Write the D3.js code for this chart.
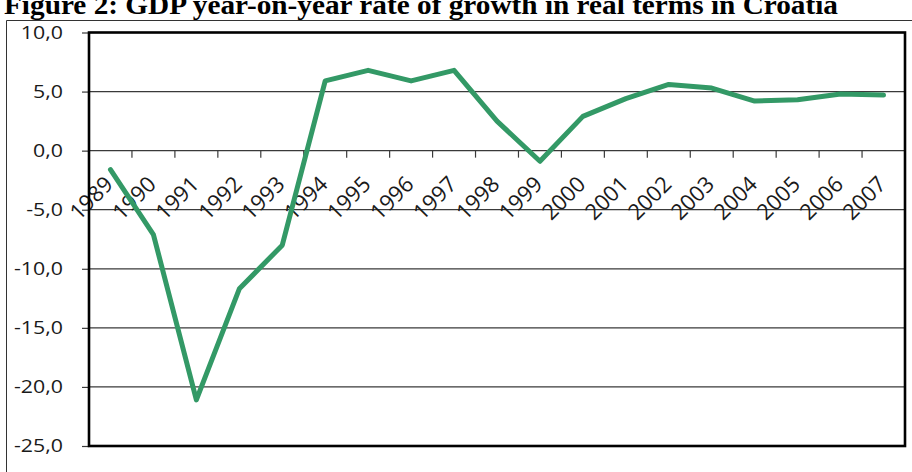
<!DOCTYPE html>
<html>
<head>
<meta charset="utf-8">
<script src="https://cdn.jsdelivr.net/npm/d3@7"></script>
<style>
  html, body { margin: 0; padding: 0; background: #fff; }
  svg { display: block; }
</style>
</head>
<body>
<svg id="chart" width="912" height="472"></svg>
<script>
// GDP year-on-year growth in real terms, Croatia
const years = ["1989","1990","1991","1992","1993","1994","1995","1996","1997","1998",
               "1999","2000","2001","2002","2003","2004","2005","2006","2007"];
const growth = [-1.6, -7.1, -21.1, -11.7, -8.0, 5.9, 6.8, 5.9, 6.8, 2.5,
                -0.9, 2.9, 4.4, 5.6, 5.3, 4.2, 4.3, 4.8, 4.7];
const yTicks = [10, 5, 0, -5, -10, -15, -20, -25];
const yTickLabels = ["10,0", "5,0", "0,0", "-5,0", "-10,0", "-15,0", "-20,0", "-25,0"];
const title = "Figure 2: GDP year-on-year rate of growth in real terms in Croatia";

const svg = d3.select("#chart");
const plot = { left: 89, right: 905, top: 32.5, bottom: 446 };

const x = d3.scaleBand().domain(years).range([plot.left, plot.right]).padding(0);
const y = d3.scaleLinear().domain([-25, 10]).range([plot.bottom, plot.top]);

// title and surrounding frame
svg.append("text")
  .attr("x", 4).attr("y", 14)
  .attr("font-family", "Liberation Serif, Times New Roman, serif")
  .attr("font-weight", "bold")
  .attr("font-size", 28)
  .attr("textLength", 834)
  .attr("lengthAdjust", "spacingAndGlyphs")
  .attr("fill", "#000")
  .text(title);

svg.append("path")
  .attr("d", "M6.5,480 V20.5 H920")
  .attr("fill", "none").attr("stroke", "#333").attr("stroke-width", 1);

// horizontal gridlines
svg.append("g")
  .selectAll("line")
  .data(yTicks.filter(d => d !== 10 && d !== -25))
  .join("line")
  .attr("x1", plot.left).attr("x2", plot.right)
  .attr("y1", d => y(d)).attr("y2", d => y(d))
  .attr("stroke", "#3a3a3a").attr("stroke-width", 1.2);

// y axis: ticks and labels
const yAxis = d3.axisLeft(y)
  .tickValues(yTicks)
  .tickSize(7)
  .tickPadding(0)
  .tickFormat((d, i) => yTickLabels[i]);
const gy = svg.append("g").attr("transform", `translate(${plot.left},0)`).call(yAxis);
gy.select(".domain").remove();
gy.selectAll(".tick line").attr("stroke", "#3a3a3a").attr("stroke-width", 1.2);
gy.selectAll(".tick text")
  .attr("font-family", "Open Sans, Noto Sans, sans-serif")
  .attr("font-size", 17.5)
  .attr("fill", "#1a1a1a")
  .attr("text-anchor", "end")
  .attr("dy", "0.34em")
  .attr("transform", function (d) { return `translate(-26,${y(d)}) scale(1.22,1) translate(0,${-y(d)})`; })
  .attr("x", 0);

// x axis on the zero line: ticks between categories
const bw = x.bandwidth();
svg.append("g")
  .selectAll("line")
  .data(years.slice(1))
  .join("line")
  .attr("x1", d => x(d)).attr("x2", d => x(d))
  .attr("y1", y(0)).attr("y2", y(0) + 7)
  .attr("stroke", "#3a3a3a").attr("stroke-width", 1.2);

svg.append("g")
  .selectAll("text")
  .data(years)
  .join("text")
  .attr("transform", d => `translate(${x(d) + bw / 2 + 4},${y(0) + 35}) rotate(-45)`)
  .attr("text-anchor", "end")
  .attr("font-family", "Open Sans, Noto Sans, sans-serif")
  .attr("font-size", 22)
  .attr("fill", "#1a1a1a")
  .text(d => d);

// plot frame
svg.append("rect")
  .attr("x", plot.left).attr("y", plot.top)
  .attr("width", plot.right - plot.left).attr("height", plot.bottom - plot.top)
  .attr("fill", "none").attr("stroke", "#000").attr("stroke-width", 2.6);

// growth line
const line = d3.line()
  .x((d, i) => x(years[i]) + bw / 2)
  .y(d => y(d));
svg.append("path")
  .datum(growth)
  .attr("d", line)
  .attr("fill", "none")
  .attr("stroke", "#339966")
  .attr("stroke-width", 5)
  .attr("stroke-linejoin", "round")
  .attr("stroke-linecap", "round");
</script>
</body>
</html>
